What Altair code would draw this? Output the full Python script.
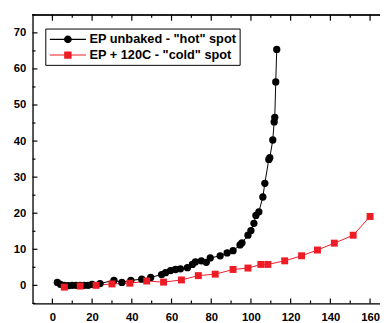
import altair as alt
import pandas as pd

# ---- data ----
hot_name = 'EP unbaked - "hot" spot'
cold_name = 'EP + 120C - "cold" spot'

hot_x = [2.5, 4, 6, 8, 10, 12, 14, 16, 18, 20, 24, 31, 35, 39.5, 45, 49.5, 55, 57, 59.5, 62,
         64.5, 68, 70.5, 72, 75, 77.5, 79.5, 84.5, 88, 91, 94.5, 95.5, 98.5, 100, 101.5,
         102.5, 104, 106, 107, 109, 109.5, 111, 111.7, 112, 112.5, 113]
hot_y = [0.8, 0.3, 0.0, -0.1, 0.0, 0.0, 0.0, 0.0, 0.0, 0.3, 0.5, 1.4, 0.8, 1.4, 1.7, 2.2, 3.0, 3.5, 4.1, 4.4,
         4.6, 4.9, 5.8, 6.5, 6.8, 6.4, 7.6, 8.2, 9.0, 9.6, 11.2, 11.8, 13.9, 15.2, 17.2,
         19.4, 20.4, 24.5, 28.3, 34.9, 35.4, 40.3, 45.3, 46.6, 56.4, 65.4]

cold_x = [6, 14, 22, 30, 39, 47.5, 56, 65, 73.5, 82, 91, 98.5, 105, 108.5, 117, 125.5, 133.5, 142, 151.5, 160]
cold_y = [-0.5, -0.2, 0.0, 0.4, 0.6, 1.2, 0.9, 1.5, 2.7, 3.1, 4.4, 4.8, 5.8, 5.8, 6.8, 8.2, 9.8, 11.7, 13.9, 19.1]

x_labels = [0, 20, 40, 60, 80, 100, 120, 140, 160]
x_minor = [10, 30, 50, 70, 90, 110, 130, 150]
y_labels = [0, 10, 20, 30, 40, 50, 60, 70]
y_minor = [-5, 5, 15, 25, 35, 45, 55, 65, 75]

series_names = [hot_name, cold_name]
series_colors = ["#000000", "#ee1c25"]

# legend symbols: a short line with the marker in the middle
legend_paths = [
    "M-2.3,-0.07H-0.45V0.07H-2.3Z M0.45,-0.07H2.3V0.07H0.45Z "
    "M-0.5,0A0.5,0.5 0 1,1 0.5,0A0.5,0.5 0 1,1 -0.5,0Z",
    "M-2.3,-0.07H-0.45V0.07H-2.3Z M0.45,-0.07H2.3V0.07H0.45Z "
    "M-0.47,-0.47H0.47V0.47H-0.47Z",
]

df = pd.concat([
    pd.DataFrame({"x": hot_x, "y": hot_y, "series": hot_name}),
    pd.DataFrame({"x": cold_x, "y": cold_y, "series": cold_name}),
], ignore_index=True)
leg_df = pd.DataFrame({"series": series_names})
xmaj_df = pd.DataFrame({"v": x_labels})
xmin_df = pd.DataFrame({"v": x_minor})
ymaj_df = pd.DataFrame({"v": y_labels})
ymin_df = pd.DataFrame({"v": y_minor})

W, H = 354, 294
FONT = "Liberation Sans"

xscale = alt.Scale(domain=[-10, 165], nice=False, zero=False)
yscale = alt.Scale(domain=[-5, 75], nice=False, zero=False)
cscale = alt.Scale(domain=series_names, range=series_colors)

x_axis = alt.Axis(values=x_labels, ticks=False, grid=False,
                  domainColor="black", domainWidth=1.3, labelFont=FONT,
                  labelFontSize=11.5, labelFontWeight="bold", labelColor="black",
                  labelPadding=8)
y_axis = alt.Axis(values=y_labels, ticks=False, grid=False,
                  domainColor="black", domainWidth=1.3, labelFont=FONT,
                  labelFontSize=11.5, labelFontWeight="bold", labelColor="black",
                  labelPadding=7)

legend = alt.Legend(title=None, orient="none", legendX=13, legendY=14,
                    strokeColor="black", fillColor="white", padding=3,
                    symbolSize=256, symbolOpacity=1, symbolStrokeWidth=0,
                    labelFont=FONT, labelFontSize=13, labelFontWeight="bold",
                    labelColor="black", labelOffset=14, rowPadding=1, symbolOffset=12)

X = alt.X("x:Q", scale=xscale, axis=x_axis, title=None)
Y = alt.Y("y:Q", scale=yscale, axis=y_axis, title=None)
C = alt.Color("series:N", scale=cscale, legend=legend)

lines = alt.Chart(df).mark_line(strokeWidth=1).encode(x=X, y=Y, color=C, detail="series:N")

hot_pts = alt.Chart(df).transform_filter(alt.datum.series == hot_name).mark_point(
    shape="circle", filled=True, size=55, opacity=1).encode(x=X, y=Y, color=C)
cold_pts = alt.Chart(df).transform_filter(alt.datum.series == cold_name).mark_point(
    shape="square", filled=True, size=50, opacity=1).encode(x=X, y=Y, color=C)

# top frame line
top_line = alt.Chart(xmaj_df).mark_rule(color="#222222", strokeWidth=1.2).encode(
    x=alt.value(0), x2=alt.value(W), y=alt.value(0))

def xticks(data, length, at_top):
    xe = alt.X("v:Q", scale=xscale, axis=x_axis, title=None)
    if at_top:
        return alt.Chart(data).mark_rule(color="black", strokeWidth=1.2).encode(
            x=xe, y=alt.value(0), y2=alt.value(length))
    return alt.Chart(data).mark_rule(color="black", strokeWidth=1.2).encode(
        x=xe, y=alt.value(H), y2=alt.value(H - length))

def yticks(data, length):
    return alt.Chart(data).mark_rule(color="black", strokeWidth=1.2).encode(
        y=alt.Y("v:Q", scale=yscale, axis=y_axis, title=None), x=alt.value(0), x2=alt.value(length))

legend_layer = alt.Chart(leg_df).mark_point(filled=True, opacity=0).encode(
    color=C,
    shape=alt.Shape("series:N", scale=alt.Scale(domain=series_names, range=legend_paths),
                    legend=legend),
)

chart = alt.layer(
    lines, hot_pts, cold_pts,
    top_line,
    xticks(xmaj_df, 6, True), xticks(xmin_df, 3, True),
    xticks(xmaj_df, 5, False), xticks(xmin_df, 3, False),
    yticks(ymaj_df, 5), yticks(ymin_df, 3),
    legend_layer,
).properties(
    width=W, height=H,
    autosize=alt.AutoSizeParams(type="none"),
    padding={"left": 25, "top": 4, "right": 0, "bottom": 16},
).configure_view(stroke=None).configure(background="white")

chart.save("out.html", embed_options={"renderer": "svg", "actions": False})
